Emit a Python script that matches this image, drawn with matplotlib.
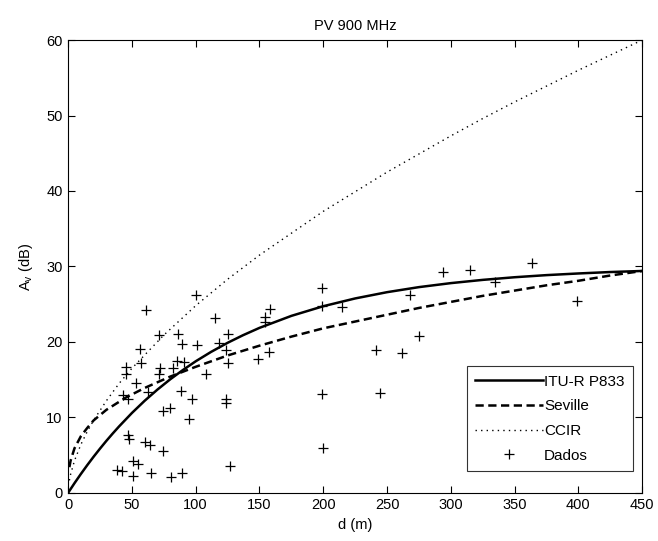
import matplotlib.pyplot as plt

plt.rcParams['font.family'] = ['Liberation Sans', 'DejaVu Sans']

# model curves, values
d_itu = [0, 5, 10, 15, 20, 25, 30, 35, 40, 50, 60, 70, 80, 90, 100, 112, 125, 137, 150, 175, 200,
         225, 250, 275, 300, 325, 350, 375, 400, 425, 450]
a_itu = [0, 1.28, 2.50, 3.67, 4.79, 5.86, 6.89, 7.87, 8.81, 10.58, 12.20, 13.68, 15.04, 16.28, 17.43,
         18.67, 19.88, 20.88, 21.86, 23.45, 24.73, 25.76, 26.59, 27.26, 27.79, 28.22, 28.57, 28.85,
         29.07, 29.26, 29.40]

d_sev = [1, 2, 5, 10, 15, 20, 30, 45, 60, 80, 100, 125, 150, 175, 200, 225, 250, 275, 300, 325,
         350, 375, 400, 425, 450]
a_sev = [3.4, 4.3, 5.9, 7.5, 8.6, 9.6, 11.0, 12.6, 13.9, 15.4, 16.7, 18.2, 19.5, 20.7, 21.8, 22.7,
         23.6, 24.5, 25.3, 26.1, 26.8, 27.5, 28.1, 28.8, 29.4]

d_ccir = [1, 2, 5, 10, 15, 20, 30, 40, 50, 75, 100, 125, 150, 175, 200, 225, 250, 275, 300, 325,
          350, 375, 400, 425, 450]
a_ccir = [1.65, 2.48, 4.26, 6.40, 8.12, 9.62, 12.2, 14.5, 16.5, 20.9, 24.8, 28.3, 31.5, 34.4, 37.3,
          39.9, 42.5, 44.9, 47.3, 49.6, 51.8, 53.9, 56.0, 58.0, 60.0]

# measured points
d_dados = [38.4, 42.5, 50.8, 50.8, 54.8, 65, 81, 89.5, 127,
           47, 48, 60, 64, 74.4,
           74.4, 79.6, 95, 97.5, 88.7,
           43, 47, 53.5, 62.6, 45, 45, 57.4, 56.6, 61.3,
           71, 71.8, 82, 85, 91, 71, 86, 89, 100.4, 101, 107.8, 114.8, 118.2, 125.2, 124, 125.2, 124, 124,
           148.7, 157.3, 154.7, 154.7, 158.4,
           199, 199, 214.7, 199, 199.6,
           241.3, 261.7, 274.7, 244.5, 268, 294, 315, 334.7, 364, 398.7]
a_dados = [3.0, 2.9, 2.2, 4.2, 3.8, 2.6, 2.1, 2.6, 3.6,
           7.7, 7.1, 6.8, 6.3, 5.5,
           10.9, 11.3, 9.8, 12.4, 13.5,
           12.9, 12.5, 14.6, 13.3, 15.7, 16.7, 17.2, 19.0, 24.2,
           15.7, 16.6, 16.6, 17.5, 17.3, 20.9, 21.0, 19.7, 26.2, 19.6, 15.8, 23.2, 19.8, 21.0, 18.9, 17.2, 12.4, 11.9,
           17.7, 18.6, 23.3, 22.6, 24.3,
           27.2, 24.8, 24.6, 13.1, 5.9,
           18.9, 18.5, 20.8, 13.2, 26.2, 29.3, 29.5, 28.0, 30.4, 25.4]

fig = plt.figure(figsize=(6.58, 5.41), dpi=100)
ax = fig.add_axes([0.1035, 0.089, 0.8725, 0.837])

ax.plot(d_itu, a_itu, 'k-', lw=1.8, label='ITU-R P833')
ax.plot(d_sev, a_sev, 'k--', lw=1.8, dashes=(3.3, 1.8), label='Seville')
ax.plot(d_ccir, a_ccir, 'k:', lw=1.0, dashes=(1, 3), label='CCIR')
ax.plot(d_dados, a_dados, 'k+', ms=7.5, mew=0.9, ls='none', label='Dados')

ax.set_xlim(0, 450)
ax.set_ylim(0, 60)
ax.set_xticks(range(0, 451, 50))
ax.set_yticks(range(0, 61, 10))
ax.tick_params(direction='in', top=True, right=True, length=5, labelsize=10.5, pad=4)
for s in ax.spines.values():
    s.set_linewidth(0.8)

ax.set_title('PV 900 MHz', fontsize=10.5, pad=7)
ax.set_xlabel('d (m)', fontsize=10.5, labelpad=4)
ax.set_ylabel('A$_\\mathregular{v}$ (dB)', fontsize=10.5, labelpad=8)

leg = ax.legend(loc='lower right', bbox_to_anchor=(0.984, 0.048), fontsize=11, frameon=True,
                fancybox=False, edgecolor='k', handlelength=4.4, handletextpad=0.1,
                borderpad=0.55, labelspacing=0.7, borderaxespad=0)
leg.get_frame().set_linewidth(0.8)

fig.savefig('out.png', dpi=100)
